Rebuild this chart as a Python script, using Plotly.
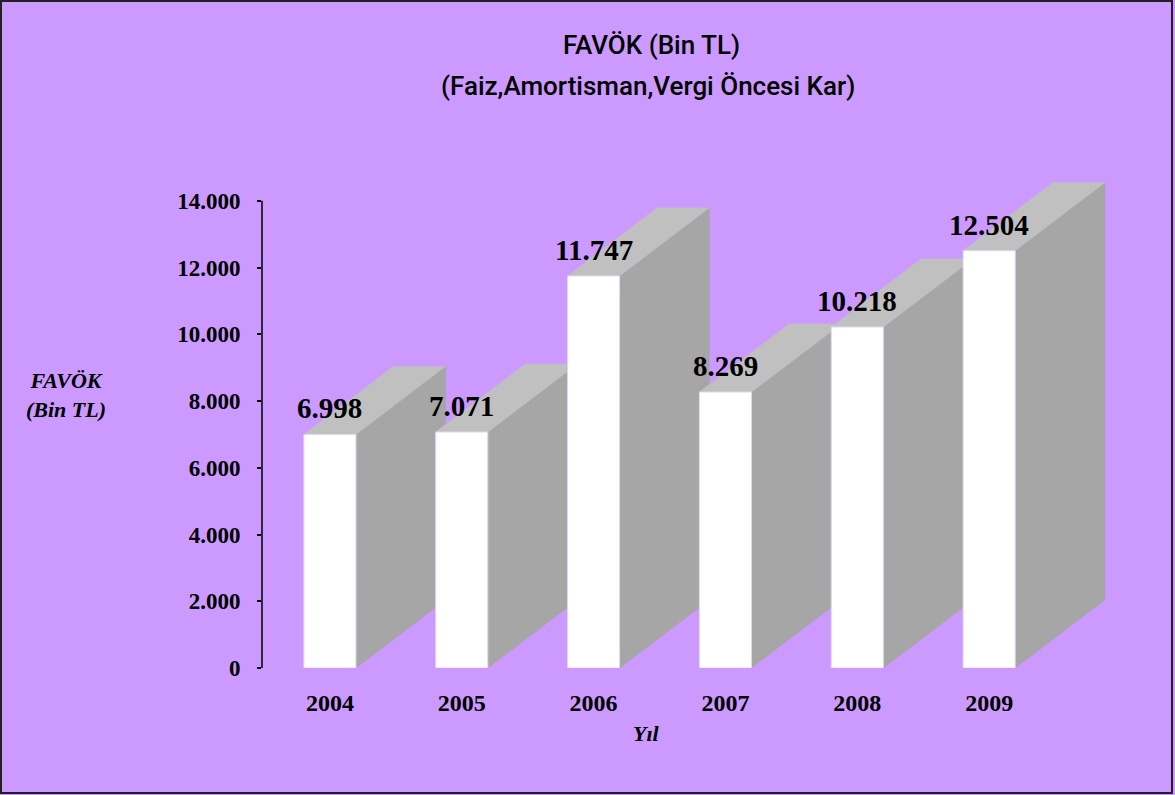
import plotly.graph_objects as go

# ---------------- data ----------------
years = ["2004", "2005", "2006", "2007", "2008", "2009"]
favok = [6998, 7071, 11747, 8269, 10218, 12504]
y_tick_vals = [0, 2000, 4000, 6000, 8000, 10000, 12000, 14000]
title_lines = ["FAVÖK (Bin TL)", "(Faiz,Amortisman,Vergi Öncesi Kar)"]
y_title = "FAVÖK<br>(Bin TL)"
x_title = "Yıl"

# ---------------- style / layout constants ----------------
W, H = 1175, 795
ML, MR, MT, MB = 262, 54, 134, 127
PW, PH = W - ML - MR, H - MT - MB
X_RANGE = [-0.515, 6.0]
Y_RANGE = [0, 16000]
BAR_W = 0.395
DX = 0.68      # depth offset in category units
DY = 2040      # depth offset in value units
BG = "#cc99ff"
SIDE = "#a6a6a6"
TOP = "#c0c0c0"
SERIF = "Liberation Serif, Times New Roman, serif"
TITLE_FONT = "Roboto, Liberation Sans, sans-serif"


def px_x(p):
    return (p - ML) / PW


def px_y(p):
    return (H - MB - p) / PH


xpos = list(range(len(years)))

shapes = []
for x, v in zip(xpos, favok):
    l, r = x - BAR_W / 2, x + BAR_W / 2
    side = f"M {r},0 L {r + DX},{DY} L {r + DX},{v + DY} L {r},{v} Z"
    top = f"M {l},{v} L {r},{v} L {r + DX},{v + DY} L {l + DX},{v + DY} Z"
    shapes.append(dict(type="path", path=side, xref="x", yref="y", fillcolor=SIDE,
                       line=dict(color=SIDE, width=0.5), layer="below"))
    shapes.append(dict(type="path", path=top, xref="x", yref="y", fillcolor=TOP,
                       line=dict(color=TOP, width=0.5), layer="below"))

# y axis line (0 .. 14000)
shapes.append(dict(type="line", xref="paper", yref="y", x0=0, x1=0,
                   y0=y_tick_vals[0], y1=y_tick_vals[-1],
                   line=dict(color="black", width=1.5), layer="above"))
# outer border
shapes.append(dict(type="rect", xref="paper", yref="paper",
                   x0=px_x(1), x1=px_x(1172), y0=px_y(793), y1=px_y(1),
                   line=dict(color="#222222", width=2), layer="above"))

fig = go.Figure()
fig.add_trace(go.Bar(
    x=xpos, y=favok, width=BAR_W,
    marker=dict(color="white", line=dict(color="#e2d6f0", width=1)),
    hoverinfo="skip", showlegend=False,
))

annotations = []
for x, v in zip(xpos, favok):
    annotations.append(dict(
        x=x, y=v, xref="x", yref="y", text=f"{v:,}".replace(",", "."),
        showarrow=False, yanchor="bottom", xanchor="center", yshift=8,
        font=dict(family=SERIF, size=29, color="black", weight="bold"),
    ))

annotations.append(dict(x=px_x(651), y=px_y(45), xref="paper", yref="paper",
                        text=title_lines[0], showarrow=False, xanchor="center", yanchor="middle",
                        font=dict(family=TITLE_FONT, size=26, color="black", weight=500)))
annotations.append(dict(x=px_x(648), y=px_y(86), xref="paper", yref="paper",
                        text=title_lines[1], showarrow=False, xanchor="center", yanchor="middle",
                        font=dict(family=TITLE_FONT, size=26, color="black", weight=500)))
annotations.append(dict(x=px_x(66), y=px_y(395), xref="paper", yref="paper",
                        text=y_title, showarrow=False, xanchor="center", yanchor="middle", align="center",
                        font=dict(family=SERIF, size=22, color="black", weight="bold", style="italic")))
annotations.append(dict(x=px_x(646), y=px_y(733), xref="paper", yref="paper",
                        text=x_title, showarrow=False, xanchor="center", yanchor="middle",
                        font=dict(family=SERIF, size=22, color="black", weight="bold", style="italic")))

fig.update_layout(
    width=W, height=H,
    margin=dict(l=ML, r=MR, t=MT, b=MB, pad=0),
    paper_bgcolor=BG, plot_bgcolor=BG,
    separators=",.",
    shapes=shapes, annotations=annotations,
    showlegend=False,
    xaxis=dict(range=X_RANGE, tickvals=xpos, ticktext=years, showgrid=False, zeroline=False,
               showline=False, ticks="", ticklabelstandoff=18,
               tickfont=dict(family=SERIF, size=24, color="black", weight="bold")),
    yaxis=dict(range=Y_RANGE, tickvals=y_tick_vals, tickformat=",d", showgrid=False, zeroline=False,
               showline=False, ticks="outside", ticklen=4, tickwidth=1.5, tickcolor="black",
               ticklabelstandoff=12,
               tickfont=dict(family=SERIF, size=23, color="black", weight="bold")),
)

fig.write_html("out.html", config={"displayModeBar": False},
               post_script="document.body.style.margin='0';")
